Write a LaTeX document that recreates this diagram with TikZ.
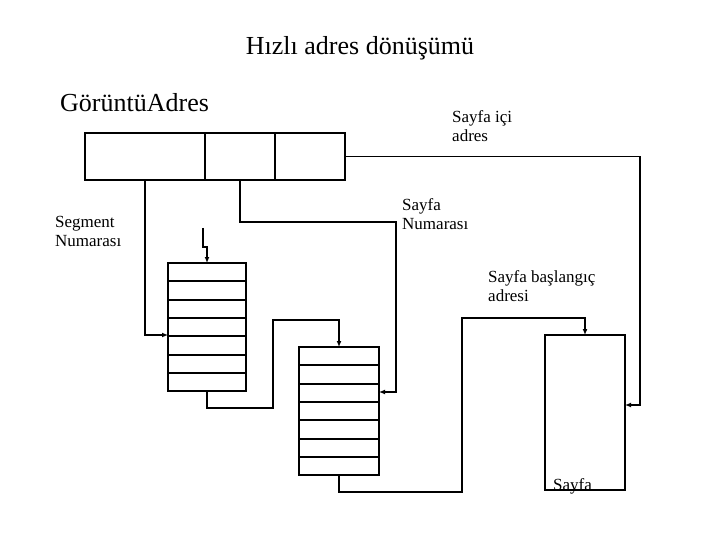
\documentclass[tikz,border=0pt]{standalone}
\usepackage{fontspec}
\setmainfont{Liberation Serif}
\usetikzlibrary{arrows.meta}
\tikzset{
  box/.style={draw, line width=2pt, inner sep=0pt},
  wire/.style={line width=1.2pt, -{Latex[length=6pt,width=5pt]}},
  plain/.style={line width=1.2pt},
  lbl/.style={font=\fontsize{17}{19}\selectfont, align=left, anchor=north west, inner sep=0pt},
}
\begin{document}
\begin{tikzpicture}[x=1pt,y=-1pt]
        \useasboundingbox (0,0) rectangle (720,540);
        \node[font=\fontsize{26}{28}\selectfont] (title) at (360,48) {Hızlı adres dönüşümü};
        \node[font=\fontsize{26}{28}\selectfont, anchor=west, inner sep=0pt] (gadr) at (60,103) {GörüntüAdres};

        % address fields
        \node[box, minimum width=120pt, minimum height=47pt] (seg) at (145,156.5) {};
        \node[box, minimum width=70pt, minimum height=47pt] (say) at (240,156.5) {};
        \node[box, minimum width=70pt, minimum height=47pt] (ici) at (310,156.5) {};

        % tables
        \draw[box] (168,263) rectangle (246,391);
        \foreach \i in {1,...,6} \draw[line width=2pt] (168,263+\i*18.3) -- (246,263+\i*18.3);
        \draw[box] (299,347) rectangle (379,475);
        \foreach \i in {1,...,6} \draw[line width=2pt] (299,347+\i*18.3) -- (379,347+\i*18.3);
        \draw[box] (545,335) rectangle (625,490);
        \coordinate (t1top) at (207,263);
        \coordinate (t1left) at (168,335);
        \coordinate (t1bot) at (207,391);
        \coordinate (t2top) at (339,347);
        \coordinate (t2right) at (379,392);
        \coordinate (t2bot) at (339,475);
        \coordinate (pgtop) at (585,335);
        \coordinate (pgright) at (625,405);

        % connectors
        \draw[wire] (seg.south) -- (145,335) -- (t1left);
        \draw[wire] (203,228) -- (203,247) -- (207,247) -- (t1top);
        \draw[wire] (say.south) -- (240,222) -- (396,222) -- (396,392) -- (t2right);
        \draw[wire] (t1bot) -- (207,408) -- (273,408) -- (273,320) -- (339,320) -- (t2top);
        \draw[wire] (t2bot) -- (339,492) -- (462,492) -- (462,318) -- (585,318) -- (pgtop);
        \draw[wire] (ici.east) -- (640,156.5) -- (640,405) -- (pgright);

        % labels
        \node[lbl] (l1) at (452,110) {Sayfa içi\\adres};
        \node[lbl] (l2) at (55,216) {Segment\\Numarası};
        \node[lbl] (l3) at (402,198) {Sayfa\\Numarası};
        \node[lbl] (l4) at (488,270) {Sayfa başlangıç\\adresi};
        \node[lbl] (l5) at (553,478) {Sayfa};
\end{tikzpicture}
\end{document}
